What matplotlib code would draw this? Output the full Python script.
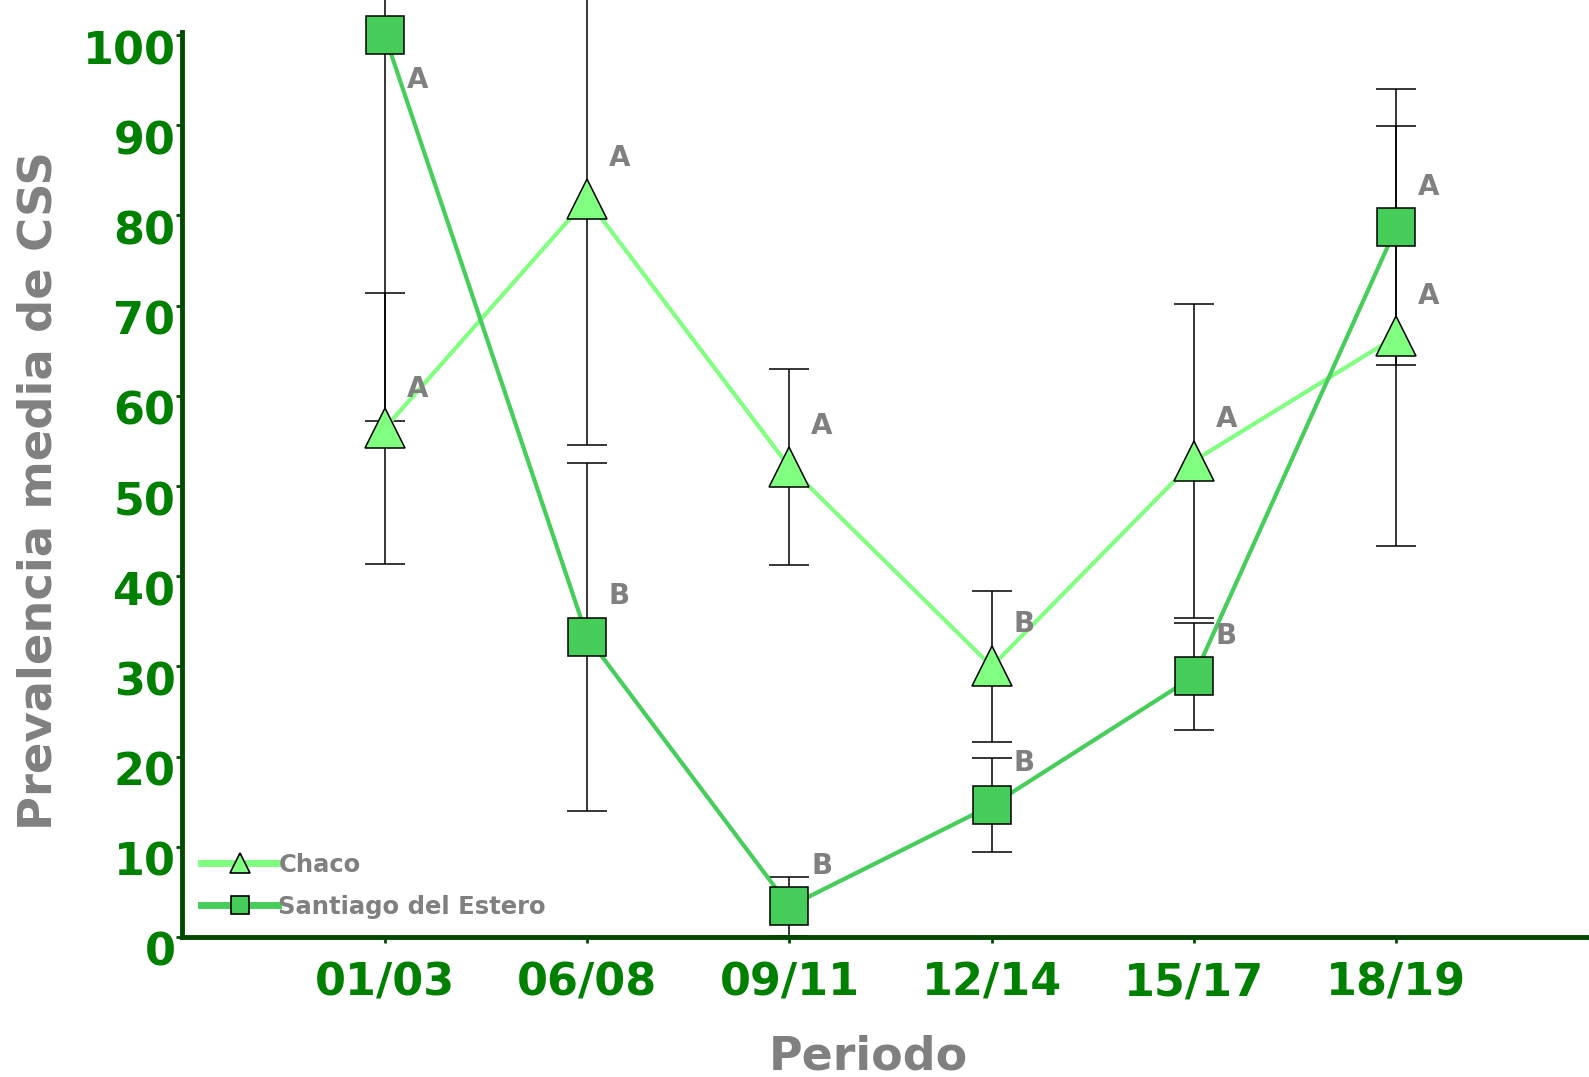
import matplotlib
matplotlib.use('Agg')
import matplotlib.pyplot as plt
from matplotlib.lines import Line2D
from matplotlib.transforms import ScaledTranslation

# periods on the x axis
periods = ['01/03', '06/08', '09/11', '12/14', '15/17', '18/19']

# Chaco: mean and error
chaco_mean = [56.4, 81.8, 52.1, 30.0, 52.8, 66.6]
chaco_err = [15.0, 27.3, 10.9, 8.4, 17.4, 23.3]
chaco_letters = ['A', 'A', 'A', 'B', 'A', 'A']
chaco_letter_y = [60.8, 86.4, 56.6, 34.7, 57.4, 71.1]

# Santiago del Estero: mean and error
sde_mean = [100.0, 33.3, 3.4, 14.6, 28.9, 78.7]
sde_err = [42.8, 19.3, 3.3, 5.2, 5.9, 15.3]
sde_letters = ['A', 'B', 'B', 'B', 'B', 'A']
sde_letter_y = [95.0, 37.8, 7.9, 19.3, 33.4, 83.2]

CHACO_COL = '#80FF80'
SDE_COL = '#46CD5A'
TICK_COL = '#008000'
AXIS_COL = '#004A00'
GREY = '#808080'

fig = plt.figure(figsize=(15.89, 10.77), dpi=100)
ax = fig.add_axes([0.1148, 0.130, 0.885, 0.840])

xs = list(range(1, len(periods) + 1))

# error bars first (black, not clipped at top)
for mean, err in [(chaco_mean, chaco_err), (sde_mean, sde_err)]:
    eb = ax.errorbar(xs, mean, yerr=err, fmt='none', ecolor='black',
                     elinewidth=1.1, capsize=14.4, capthick=1.1, zorder=2)
    for art in eb.lines[1] + eb.lines[2]:
        art.set_clip_on(False)

ax.plot(xs, chaco_mean, color=CHACO_COL, lw=3, marker='^', ms=29,
        mfc=CHACO_COL, mec='black', mew=1.1, zorder=3, clip_on=False)
ax.plot(xs, sde_mean, color=SDE_COL, lw=3, marker='s', ms=28,
        mfc=SDE_COL, mec='black', mew=1.1, zorder=4, clip_on=False)

for x, y, t in zip(xs, chaco_letter_y, chaco_letters):
    ax.text(x + 0.16, y, t, color=GREY, fontsize=20, fontweight='heavy',
            ha='center', va='center', zorder=5)
for x, y, t in zip(xs, sde_letter_y, sde_letters):
    ax.text(x + 0.16, y, t, color=GREY, fontsize=20, fontweight='heavy',
            ha='center', va='center', zorder=5)

ax.set_xlim(0, 6.95)
ax.set_ylim(0, 100.3)
ax.set_xticks(xs)
ax.set_xticklabels(periods)
ax.set_yticks(range(0, 101, 10))

for s in ['top', 'right']:
    ax.spines[s].set_visible(False)
for s in ['left', 'bottom']:
    ax.spines[s].set_color(AXIS_COL)
    ax.spines[s].set_linewidth(3.5)

ax.tick_params(axis='both', colors=AXIS_COL, length=4, width=2)
ax.tick_params(axis='y', pad=1, labelsize=32, labelcolor=TICK_COL)
ax.tick_params(axis='x', pad=14, labelsize=32, labelcolor=TICK_COL)
for lab in ax.get_yticklabels() + ax.get_xticklabels():
    lab.set_fontweight('heavy')
# y labels sit a bit below their tick value, as in the original
shift = ScaledTranslation(0, -0.12, fig.dpi_scale_trans)
for lab in ax.get_yticklabels():
    lab.set_transform(lab.get_transform() + shift)

ax.set_ylabel('Prevalencia media de CSS', fontsize=33.5, fontweight='heavy',
              color=GREY)
ax.yaxis.set_label_coords(-0.086, 0.493)
ax.set_xlabel('Periodo', fontsize=33, fontweight='heavy', color=GREY)
ax.xaxis.set_label_coords(0.488, -0.108)

handles = [
    Line2D([], [], color=CHACO_COL, lw=5, marker='^', ms=14,
           mfc=CHACO_COL, mec='black', mew=1.2),
    Line2D([], [], color=SDE_COL, lw=5, marker='s', ms=13,
           mfc=SDE_COL, mec='black', mew=1.2),
]
leg = ax.legend(handles, ['Chaco', 'Santiago del Estero'], loc='lower left',
                bbox_to_anchor=(0.0, 0.0), frameon=False, fontsize=17.5,
                handlelength=3.2, handletextpad=0.0, labelspacing=0.75,
                borderaxespad=0.35)
for t in leg.get_texts():
    t.set_color(GREY)
    t.set_fontweight('heavy')

fig.savefig('out.png', dpi=100)
